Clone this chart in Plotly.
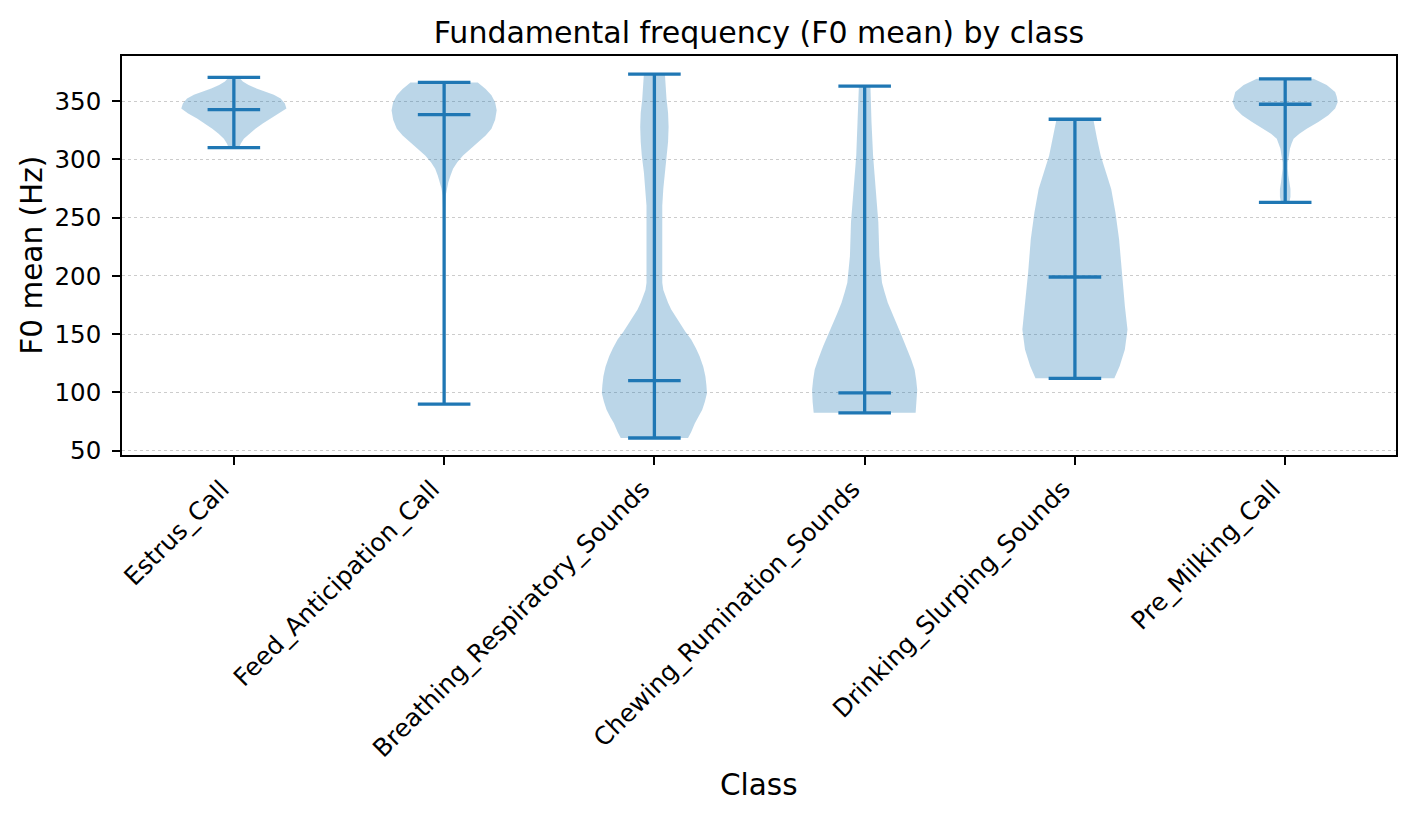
import plotly.graph_objects as go

categories = ["Estrus_Call", "Feed_Anticipation_Call", "Breathing_Respiratory_Sounds",
              "Chewing_Rumination_Sounds", "Drinking_Slurping_Sounds", "Pre_Milking_Call"]
mins = [310.1, 90.0, 60.9, 82.5, 112.1, 263.2]
maxs = [370.4, 366.1, 373.3, 362.9, 334.5, 369.2]
medians = [342.8, 338.5, 110.1, 99.7, 199.1, 347.4]
y_ticks = [50, 100, 150, 200, 250, 300, 350]

# density profiles (value, relative half-width)
estrus_y = [310.1, 313.5, 317.8, 322.0, 326.4, 330.8, 335.1, 339.5, 343.7, 348.0, 352.3, 355.5, 358.0, 361.0, 363.8, 367.0, 370.4]
estrus_w = [0.10, 0.13, 0.19, 0.29, 0.41, 0.55, 0.70, 0.87, 1.00, 0.97, 0.89, 0.76, 0.60, 0.43, 0.28, 0.17, 0.10]
feed_y = [90.0, 150.0, 200.0, 250.0, 269.0, 275.0, 280.4, 286.0, 292.0, 297.5, 303.4, 309.0, 314.9, 320.5, 326.4, 334.0, 342.2, 349.0, 355.2, 360.5, 366.1]
feed_w = [0.01, 0.01, 0.01, 0.015, 0.03, 0.05, 0.08, 0.12, 0.17, 0.25, 0.36, 0.50, 0.65, 0.79, 0.90, 0.97, 1.00, 0.97, 0.90, 0.79, 0.64]
breath_y = [60.9, 66.0, 73.6, 79.0, 85.1, 92.0, 99.4, 106.0, 113.8, 122.0, 131.0, 138.0, 145.4, 152.0, 159.8, 165.0, 171.3, 177.0, 182.8, 188.0, 194.2, 217.2, 246.0, 260.3, 275.0, 289.1, 303.4, 315.0, 327.9, 340.0, 352.3, 362.0, 373.3]
breath_w = [0.64, 0.70, 0.77, 0.84, 0.91, 0.96, 1.00, 0.99, 0.97, 0.93, 0.86, 0.79, 0.70, 0.59, 0.48, 0.40, 0.32, 0.26, 0.21, 0.17, 0.15, 0.15, 0.15, 0.15, 0.17, 0.20, 0.24, 0.26, 0.27, 0.26, 0.23, 0.21, 0.20]
chew_y = [82.5, 92.0, 102.3, 111.0, 119.6, 129.0, 139.7, 149.0, 159.8, 168.0, 177.0, 186.0, 194.2, 217.2, 246.0, 274.7, 303.4, 332.2, 362.9]
chew_w = [0.97, 0.99, 1.00, 0.98, 0.95, 0.88, 0.79, 0.70, 0.60, 0.52, 0.44, 0.38, 0.33, 0.28, 0.26, 0.21, 0.16, 0.13, 0.11]
drink_y = [112.1, 122.4, 136.8, 154.0, 174.1, 202.9, 231.6, 254.6, 274.7, 289.0, 303.4, 318.0, 334.5]
drink_w = [0.75, 0.85, 0.95, 1.00, 0.95, 0.89, 0.84, 0.77, 0.69, 0.59, 0.49, 0.42, 0.35]
premilk_y = [263.2, 268.0, 274.7, 280.0, 286.2, 292.0, 297.7, 303.0, 309.2, 313.5, 317.8, 322.0, 326.4, 332.2, 337.9, 343.7, 349.4, 354.0, 358.0, 363.8, 369.2]
premilk_w = [0.08, 0.10, 0.10, 0.08, 0.06, 0.05, 0.05, 0.07, 0.09, 0.12, 0.16, 0.27, 0.41, 0.63, 0.82, 0.95, 1.00, 0.98, 0.95, 0.79, 0.54]

profiles = [(estrus_y, estrus_w), (feed_y, feed_w), (breath_y, breath_w),
            (chew_y, chew_w), (drink_y, drink_w), (premilk_y, premilk_w)]

BLUE = "#1f77b4"
FILL = "rgba(31,119,180,0.3)"
HALF = 0.25   # max half width of a violin in category units
CAP = 0.125   # half width of the caps
FONT = "DejaVu Sans"
LW = 3.3

fig = go.Figure()
for i, (ys, ws) in enumerate(profiles):
    xs = [i + HALF * w for w in ws] + [i - HALF * w for w in reversed(ws)]
    yy = list(ys) + list(reversed(ys))
    fig.add_trace(go.Scatter(x=xs, y=yy, mode="lines", fill="toself", fillcolor=FILL,
                             line=dict(width=0, color=FILL), hoverinfo="skip", showlegend=False))

# stems and caps
for i in range(len(categories)):
    fig.add_trace(go.Scatter(x=[i, i], y=[mins[i], maxs[i]], mode="lines",
                             line=dict(color=BLUE, width=LW), showlegend=False, hoverinfo="skip"))
    for v in (mins[i], maxs[i], medians[i]):
        fig.add_trace(go.Scatter(x=[i - CAP, i + CAP], y=[v, v], mode="lines",
                                 line=dict(color=BLUE, width=LW), showlegend=False, hoverinfo="skip"))

# the page body has an 8px margin, so the figure is 16px smaller than the window
W, H = 1401, 799
fig.update_layout(
    width=W, height=H,
    margin=dict(l=114, r=11, t=48, b=352),
    paper_bgcolor="white", plot_bgcolor="white",
    font=dict(family=FONT, color="black", size=24),
    title=dict(text="Fundamental frequency (F0 mean) by class", x=0.5, xref="paper", xanchor="center",
               y=1 - 24 / H, yanchor="middle", yref="container",
               font=dict(size=30, family=FONT, color="black")),
    showlegend=False,
)
fig.update_xaxes(
    range=[-0.532, 5.527], tickmode="array", tickvals=list(range(len(categories))),
    ticktext=categories, tickangle=-45, ticks="outside", ticklen=8, tickwidth=1.5,
    tickcolor="black", showgrid=False, zeroline=False,
    showline=True, linecolor="black", linewidth=1.6, mirror=True,
    tickfont=dict(size=24.8, family=FONT), ticklabelshift=-12,
)
fig.update_yaxes(
    range=[46.3, 388.8], tickmode="array", tickvals=y_ticks,
    ticks="outside", ticklen=8, tickwidth=1.5, tickcolor="black",
    showgrid=True, gridcolor="rgba(0,0,0,0.2)", griddash="dot", gridwidth=1,
    zeroline=False, showline=True, linecolor="black", linewidth=1.6, mirror=True,
    tickfont=dict(size=24.5, family=FONT), ticklabelstandoff=6,
)
fig.add_annotation(text="Class", xref="paper", yref="paper", x=0.5, y=(455 - 785) / 399,
                   xanchor="center", yanchor="middle", showarrow=False,
                   font=dict(size=29.5, family=FONT, color="black"))
fig.add_annotation(text="F0 mean (Hz)", xref="paper", yref="paper", x=(31 - 122) / 1276, y=0.5,
                   xanchor="center", yanchor="middle", textangle=-90, showarrow=False,
                   font=dict(size=29.5, family=FONT, color="black"))

fig.write_html("out.html")
